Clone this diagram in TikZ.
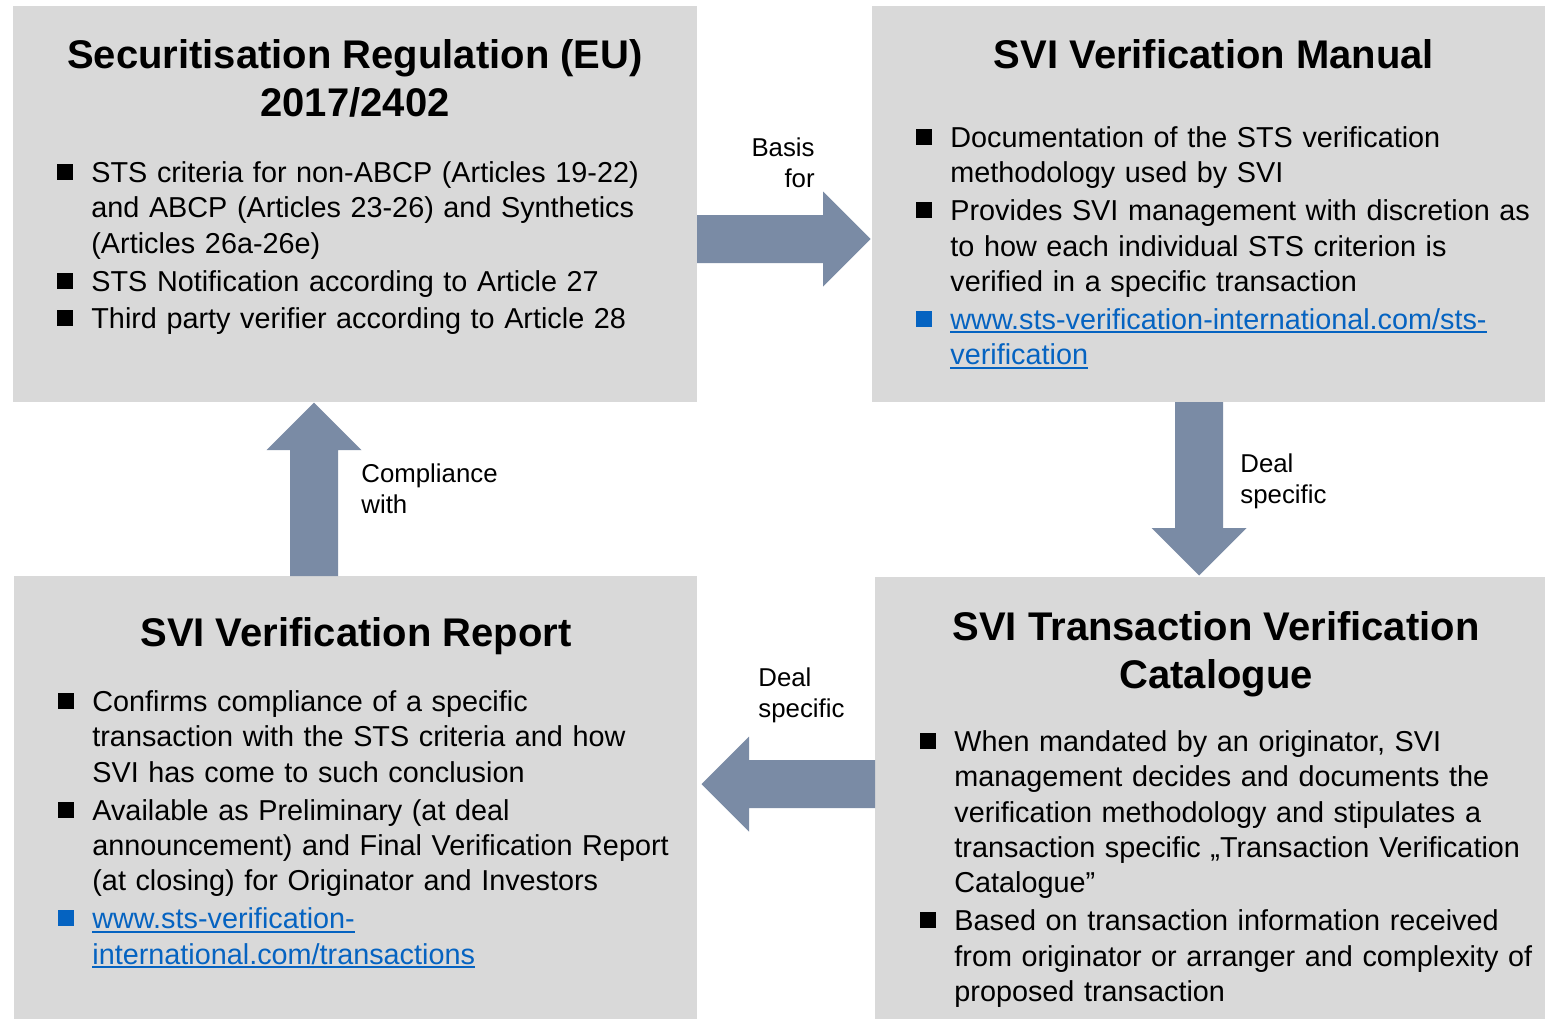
\documentclass[tikz,border=0pt]{standalone}
\usepackage{fontspec}
\setmainfont{Liberation Sans}
\usetikzlibrary{calc}
\definecolor{panelgray}{RGB}{217,217,217}
\definecolor{flowblue}{RGB}{122,139,165}
\definecolor{linkblue}{RGB}{5,99,193}
\def\fatarrow(#1)(#2){\fill[flow, shift={(#1)}, rotate=#2] (0,24) -- (126,24) -- (126,47.5) -- (173.5,0) -- (126,-47.5) -- (126,-24) -- (0,-24) -- cycle;}
\newcommand\sqitem[1][black]{\par\hangindent=17pt\hangafter=1\noindent\hbox to 17pt{\color{#1}\raisebox{1.25pt}{\rule{8pt}{8pt}}\hfil}\vrule height 11pt width 0pt\relax}
\newcommand\lnk[1]{\setbox0\hbox{#1}\rlap{\rule[-2pt]{\wd0}{1pt}}\box0}
\tikzset{
  panel/.style={fill=panelgray, inner sep=0pt, outer sep=0pt, anchor=north west},
  flow/.style={fill=flowblue},
  heading/.style={font=\fontsize{20pt}{24pt}\selectfont\bfseries, align=center, anchor=north, inner sep=0pt},
  points/.style={font=\fontsize{14.4pt}{17.7pt}\selectfont, anchor=north west, inner sep=0pt, text width=330pt, execute at begin node={\parskip=1.25pt}},
  tag/.style={font=\fontsize{12.9pt}{15.75pt}\selectfont, inner sep=0pt},
}

\begin{document}
\begin{tikzpicture}[x=0.5pt, y=-0.5pt]
			%%%%% START %%%%%
			\fill[white] (0,0) rectangle (1545,1019);
			\useasboundingbox (0,0) rectangle (1545,1019);

			\node[panel, minimum width=342pt, minimum height=198pt] (tl) at (13,6) {};
			\node[panel, minimum width=336.5pt, minimum height=198pt] (tr) at (872,6) {};
			\node[panel, minimum width=341.5pt, minimum height=221.5pt] (bl) at (14,576) {};
			\node[panel, minimum width=335pt, minimum height=221pt] (br) at (875,577) {};

			\node[heading] (tlhead) at (355,38) {\vrule height 15pt width 0pt Securitisation Regulation (EU)\\2017/2402};
			\node[points] (tllist) at (57,144) {%
				\sqitem STS criteria for non-ABCP (Articles 19-22)\newline and ABCP (Articles 23-26) and Synthetics\newline (Articles 26a-26e)
				\sqitem STS Notification according to Article 27
				\sqitem Third party verifier according to Article 28\par};

			\node[heading] (trhead) at (1214,38) {\vrule height 15pt width 0pt SVI Verification Manual};
			\node[points] (trlist) at (916,109) {%
				\sqitem Documentation of the STS verification\newline methodology used by SVI
				\sqitem Provides SVI management with discretion as\newline to how each individual STS criterion is\newline verified in a specific transaction
				\sqitem[linkblue]\color{linkblue}\lnk{www.sts-verification-international.com/sts-}\newline\lnk{verification}\par};

			\node[heading] (brhead) at (1216,610) {\vrule height 15pt width 0pt SVI Transaction Verification\\Catalogue};
			\node[points] (brlist) at (920,713) {%
				\sqitem When mandated by an originator, SVI\newline management decides and documents the\newline verification methodology and stipulates a\newline transaction specific „Transaction Verification\newline Catalogue”
				\sqitem Based on transaction information received\newline from originator or arranger and complexity of\newline proposed transaction\par};

			\node[heading] (blhead) at (356,616) {\vrule height 15pt width 0pt SVI Verification Report};
			\node[points] (bllist) at (58,673) {%
				\sqitem Confirms compliance of a specific\newline transaction with the STS criteria and how\newline SVI has come to such conclusion
				\sqitem Available as Preliminary (at deal\newline announcement) and Final Verification Report\newline (at closing) for Originator and Investors
				\sqitem[linkblue]\color{linkblue}\lnk{www.sts-verification-}\newline\lnk{international.com/transactions}\par};

			\fatarrow(tl.east |- 0,239)(0)
			\fatarrow(tr.south -| 1199,0)(-90)
			\fatarrow(br.west |- 0,784)(180)
			\fatarrow(bl.north -| 314,0)(90)

			\node[tag, anchor=north east, align=right] (basis) at (815,136) {\vrule height 10pt width 0pt Basis\\for};
			\node[tag, anchor=north west, align=left] (dealdown) at (1240,452) {\vrule height 10pt width 0pt Deal\\specific};
			\node[tag, anchor=north west, align=left] (dealleft) at (758,666) {\vrule height 10pt width 0pt Deal\\specific};
			\node[tag, anchor=north west, align=left] (comply) at (361,462) {\vrule height 10pt width 0pt Compliance\\with};
			%%%%% END %%%%%
\end{tikzpicture}
\end{document}
